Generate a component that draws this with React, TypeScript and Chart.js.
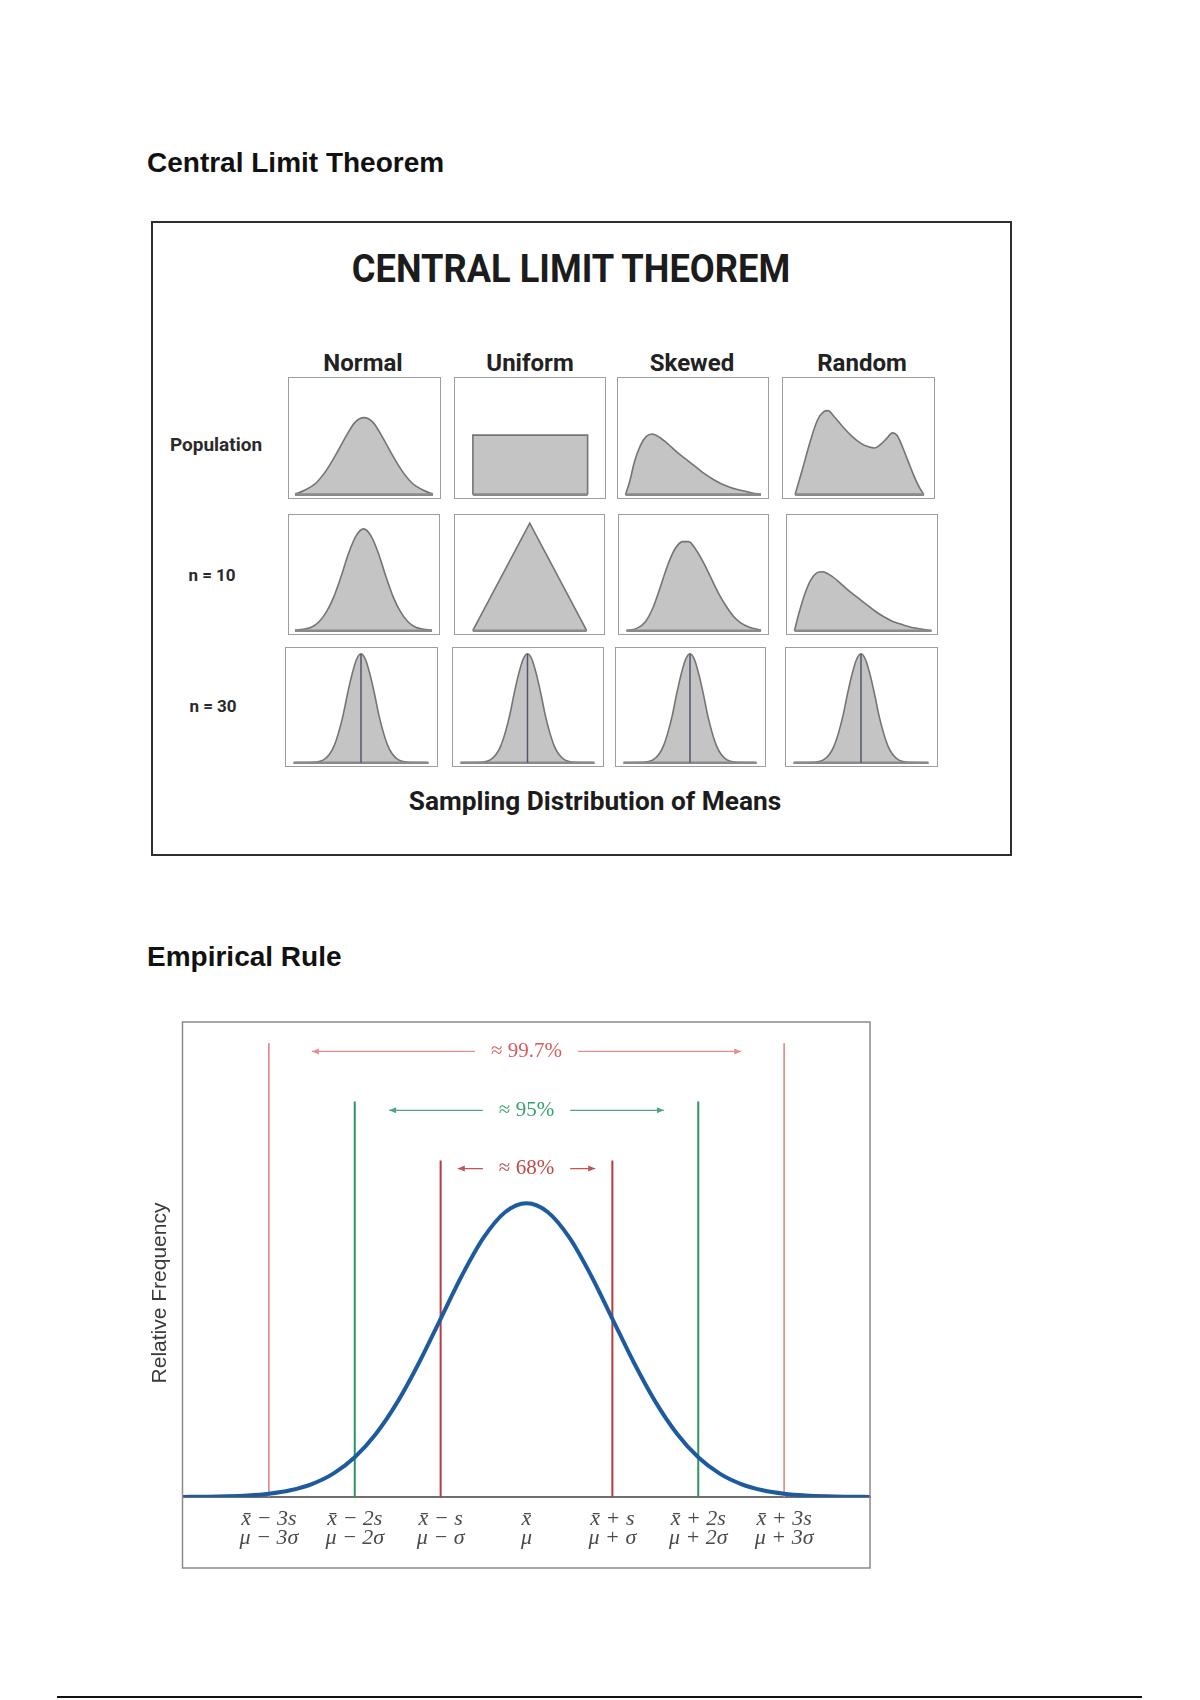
import React, { useEffect, useRef } from 'react';
import { Chart, registerables } from 'chart.js';
Chart.register(...registerables);

// ---------------- Central Limit Theorem data ----------------
const columnLabels = ['Normal', 'Uniform', 'Skewed', 'Random'];
const rowLabels = ['Population', 'n = 10', 'n = 30'];

const popNormal: number[][] = [[0.04,0.005],[0.10,0.035],[0.18,0.10],[0.25,0.21],[0.32,0.36],[0.38,0.50],[0.44,0.62],[0.50,0.66],[0.56,0.62],[0.62,0.50],[0.68,0.36],[0.75,0.21],[0.82,0.10],[0.90,0.035],[0.96,0.005]];
const popUniform: number[][] = [[0.12,0],[0.12,0.51],[0.89,0.51],[0.89,0]];
const popSkewed: number[][] = [[0.05,0],[0.08,0.12],[0.11,0.28],[0.15,0.42],[0.19,0.50],[0.23,0.52],[0.28,0.49],[0.34,0.43],[0.40,0.36],[0.46,0.30],[0.52,0.24],[0.58,0.18],[0.64,0.13],[0.70,0.09],[0.76,0.06],[0.83,0.035],[0.90,0.015],[0.96,0.004]];
const popRandom: number[][] = [[0.08,0],[0.13,0.22],[0.18,0.45],[0.23,0.64],[0.27,0.71],[0.30,0.72],[0.34,0.67],[0.40,0.58],[0.46,0.50],[0.52,0.44],[0.57,0.41],[0.61,0.40],[0.65,0.43],[0.69,0.48],[0.73,0.53],[0.76,0.51],[0.79,0.43],[0.83,0.30],[0.87,0.17],[0.91,0.06],[0.94,0]];

const n10Normal: number[][] = [[0.04,0.005],[0.08,0.01],[0.15,0.03],[0.20,0.075],[0.25,0.16],[0.30,0.29],[0.35,0.47],[0.40,0.67],[0.45,0.82],[0.50,0.88],[0.55,0.82],[0.60,0.67],[0.65,0.47],[0.70,0.29],[0.75,0.16],[0.80,0.075],[0.85,0.03],[0.92,0.01],[0.96,0.005]];
const n10Uniform: number[][] = [[0.12,0],[0.505,0.93],[0.89,0]];
const n10Skewed: number[][] = [[0.05,0],[0.12,0.02],[0.18,0.08],[0.23,0.20],[0.28,0.38],[0.33,0.57],[0.38,0.71],[0.43,0.77],[0.47,0.77],[0.52,0.70],[0.57,0.59],[0.62,0.46],[0.67,0.33],[0.72,0.22],[0.77,0.13],[0.82,0.07],[0.88,0.03],[0.96,0.005]];
const n10Random: number[][] = [[0.05,0],[0.08,0.15],[0.12,0.32],[0.16,0.44],[0.20,0.50],[0.24,0.51],[0.29,0.48],[0.35,0.42],[0.41,0.35],[0.47,0.29],[0.53,0.23],[0.59,0.17],[0.65,0.12],[0.71,0.08],[0.78,0.05],[0.85,0.025],[0.92,0.01],[0.97,0]];

const n30Curve: number[][] = [[0.05,0],[0.10,0.002],[0.20,0.006],[0.25,0.025],[0.29,0.074],[0.32,0.145],[0.35,0.26],[0.38,0.41],[0.41,0.60],[0.44,0.77],[0.47,0.90],[0.50,0.95],[0.53,0.90],[0.56,0.77],[0.59,0.60],[0.62,0.41],[0.65,0.26],[0.68,0.145],[0.71,0.074],[0.75,0.025],[0.80,0.006],[0.90,0.002],[0.95,0]];
const n30Mean: number[][] = [[0.5,0],[0.5,0.95]];

const gridCurves = [
  [popNormal, popUniform, popSkewed, popRandom],
  [n10Normal, n10Uniform, n10Skewed, n10Random],
  [n30Curve, n30Curve, n30Curve, n30Curve],
];
const straightShapes = [popUniform, n10Uniform];

// ---------------- Empirical Rule data ----------------
const curveX = [-4,-3.75,-3.5,-3.25,-3,-2.75,-2.5,-2.25,-2,-1.75,-1.5,-1.25,-1,-0.75,-0.5,-0.25,0,0.25,0.5,0.75,1,1.25,1.5,1.75,2,2.25,2.5,2.75,3,3.25,3.5,3.75,4];
const curveY = [0.0001,0.0004,0.0009,0.002,0.0044,0.0091,0.0175,0.0317,0.054,0.0863,0.1295,0.1826,0.242,0.3011,0.3521,0.3867,0.3989,0.3867,0.3521,0.3011,0.242,0.1826,0.1295,0.0863,0.054,0.0317,0.0175,0.0091,0.0044,0.002,0.0009,0.0004,0.0001];

const sigmaLineX = [-3, -2, -1, 1, 2, 3];
const sigmaLineTop = [0.616, 0.537, 0.457, 0.457, 0.537, 0.616];

const bandLabels = ['≈ 99.7%', '≈ 95%', '≈ 68%'];
const bandHalfSpan = [2.5, 1.6, 0.8];
const bandLevel = [0.605, 0.525, 0.446];

const tickValues = [-3, -2, -1, 0, 1, 2, 3];
const tickSampleLabels = ['x̄ − 3s', 'x̄ − 2s', 'x̄ − s', 'x̄', 'x̄ + s', 'x̄ + 2s', 'x̄ + 3s'];
const tickPopLabels = ['μ − 3σ', 'μ − 2σ', 'μ − σ', 'μ', 'μ + σ', 'μ + 2σ', 'μ + 3σ'];

// ---------------- styles / layout ----------------
const sigmaStyle: Record<number, { color: string; width: number }> = {
  1: { color: '#b43c3c', width: 2 },
  2: { color: '#2b9662', width: 2 },
  3: { color: '#e38585', width: 1.6 },
};
const bandStyle = [
  { arrow: '#e58e8e', text: '#d65c5c' },
  { arrow: '#4fa586', text: '#38a06e' },
  { arrow: '#c45454', text: '#c04848' },
];

const panelBoxes = [
  [[288, 377, 441, 499], [454, 377, 606, 499], [617, 377, 769, 499], [782, 377, 935, 499]],
  [[288, 514, 440, 635], [454, 514, 605, 635], [618, 514, 769, 635], [786, 514, 938, 635]],
  [[285, 647, 438, 767], [452, 647, 604, 767], [615, 647, 766, 767], [785, 647, 938, 767]],
];
const columnCenters = [363, 530, 692, 862];
const rowLabelPos = [[216, 444], [212, 575], [213, 706]];

function Panel({ box, curve, mean }: { box: number[]; curve: number[][]; mean?: number[][] }) {
  const ref = useRef<HTMLCanvasElement>(null);
  const [l, t, r, b] = box;
  const w = r - l - 3;
  const h = b - t - 3;
  useEffect(() => {
    const straight = straightShapes.includes(curve);
    const ds: any[] = [
      {
        data: curve.map(([x, y]) => ({ x, y })),
        borderColor: '#747474', borderWidth: 1.6, backgroundColor: '#c4c4c4',
        fill: 'origin', pointRadius: 0, tension: 0,
        cubicInterpolationMode: straight ? 'default' : 'monotone', order: 2,
      },
      {
        data: [{ x: curve[0][0], y: 0 }, { x: curve[curve.length - 1][0], y: 0 }],
        borderColor: '#8a8a8a', borderWidth: 2.6, pointRadius: 0, order: 1,
      },
    ];
    if (mean) {
      ds.push({ data: mean.map(([x, y]) => ({ x, y })), borderColor: '#4f5769', borderWidth: 1.5, pointRadius: 0, order: 0 });
    }
    const chart = new Chart(ref.current!, {
      type: 'line',
      data: { datasets: ds },
      options: {
        animation: false, responsive: false, events: [],
        layout: { padding: 0 },
        plugins: { legend: { display: false }, tooltip: { enabled: false } },
        scales: {
          x: { type: 'linear', display: false, min: 0, max: 1 },
          y: { display: false, min: -0.02, max: 1 },
        },
      } as any,
    });
    return () => chart.destroy();
  }, []);
  return (
    <div style={{ position: 'absolute', left: l, top: t, width: r - l, height: b - t, boxSizing: 'border-box', border: '1.5px solid #9e9e9e', background: '#fff' }}>
      <canvas ref={ref} width={w} height={h} style={{ display: 'block', position: 'absolute', left: 0, top: 0 }} />
    </div>
  );
}

function CText({ cx, cy, size, text, scaleX = 1, color = '#1c1c1c', weight = 700 }: any) {
  return (
    <div style={{ position: 'absolute', left: cx - 400, top: cy - size / 2, width: 800, textAlign: 'center', fontSize: size, lineHeight: `${size}px`, fontWeight: weight, fontFamily: 'Roboto, "Noto Sans", sans-serif', color, transform: `scaleX(${scaleX})`, whiteSpace: 'nowrap' }}>
      {text}
    </div>
  );
}

const FRAME_BOTTOM = 568;

const empiricalDecor = {
  id: 'empiricalDecor',
  afterDraw(chart: any) {
    const { ctx, chartArea, scales } = chart;
    const x = scales.x, y = scales.y;
    ctx.save();
    ctx.strokeStyle = '#8a8a8a';
    ctx.lineWidth = 1.5;
    ctx.strokeRect(chartArea.left - 0.5, chartArea.top, chartArea.right - chartArea.left + 0.5, FRAME_BOTTOM - chartArea.top);

    ctx.save();
    ctx.translate(20, 293);
    ctx.rotate(-Math.PI / 2);
    ctx.fillStyle = '#3a3a3a';
    ctx.font = '21px "Liberation Sans", Arial, sans-serif';
    ctx.textAlign = 'center';
    ctx.textBaseline = 'middle';
    ctx.fillText('Relative Frequency', 0, 0);
    ctx.restore();

    ctx.font = '21px "Liberation Serif", serif';
    ctx.textAlign = 'center';
    ctx.textBaseline = 'middle';
    bandLabels.forEach((label, i) => {
      const yy = y.getPixelForValue(bandLevel[i]);
      const cx = x.getPixelForValue(0);
      const tw = ctx.measureText(label).width;
      const gap = tw / 2 + 16;
      const lx = x.getPixelForValue(-bandHalfSpan[i]);
      const rx = x.getPixelForValue(bandHalfSpan[i]);
      ctx.strokeStyle = bandStyle[i].arrow;
      ctx.fillStyle = bandStyle[i].arrow;
      ctx.lineWidth = 1.3;
      ctx.beginPath();
      ctx.moveTo(lx, yy); ctx.lineTo(cx - gap, yy);
      ctx.moveTo(cx + gap, yy); ctx.lineTo(rx, yy);
      ctx.stroke();
      ctx.beginPath();
      ctx.moveTo(lx, yy); ctx.lineTo(lx + 7, yy - 3); ctx.lineTo(lx + 7, yy + 3); ctx.closePath();
      ctx.moveTo(rx, yy); ctx.lineTo(rx - 7, yy - 3); ctx.lineTo(rx - 7, yy + 3); ctx.closePath();
      ctx.fill();
      ctx.fillStyle = bandStyle[i].text;
      ctx.fillText(label, cx, yy);
    });
    ctx.restore();
  },
};

function EmpiricalChart() {
  const ref = useRef<HTMLCanvasElement>(null);
  useEffect(() => {
    const datasets: any[] = [
      {
        data: curveX.map((x, i) => ({ x, y: curveY[i] })),
        borderColor: '#1d5a9e', borderWidth: 4, pointRadius: 0,
        cubicInterpolationMode: 'monotone', order: 0,
      },
      ...sigmaLineX.map((x, i) => ({
        data: [{ x, y: 0 }, { x, y: sigmaLineTop[i] }],
        borderColor: sigmaStyle[Math.abs(x)].color,
        borderWidth: sigmaStyle[Math.abs(x)].width,
        pointRadius: 0, order: 1,
      })),
    ];
    const chart = new Chart(ref.current!, {
      type: 'line',
      data: { datasets },
      options: {
        animation: false, responsive: false, events: [],
        layout: { padding: { left: 43, right: 10, top: 22, bottom: 0 } },
        plugins: { legend: { display: false }, tooltip: { enabled: false } },
        scales: {
          x: {
            type: 'linear', min: -4, max: 4,
            afterBuildTicks: (s: any) => { s.ticks = tickValues.map((v) => ({ value: v })); },
            afterFit: (s: any) => { s.height = 83; },
            grid: { display: false, drawTicks: false },
            border: { display: true, color: '#6f6f6f', width: 2 },
            ticks: {
              padding: 12, color: '#4a4a4a', autoSkip: false, maxRotation: 0,
              font: { family: '"Liberation Serif", serif', size: 22, style: 'italic', lineHeight: 0.9 },
              callback: (v: any) => {
                const i = tickValues.indexOf(Number(v));
                return i < 0 ? '' : [tickSampleLabels[i], tickPopLabels[i]];
              },
            },
          },
          y: { display: false, min: 0, max: 0.645 },
        },
      } as any,
      plugins: [empiricalDecor],
    });
    return () => chart.destroy();
  }, []);
  return <canvas ref={ref} width={740} height={580} style={{ position: 'absolute', left: 140, top: 1000, display: 'block' }} />;
}

export default function App() {
  return (
    <div style={{ position: 'absolute', left: 0, top: 0, width: 1200, height: 1700, background: '#fff', overflow: 'hidden' }}>
      <div style={{ position: 'absolute', left: 147, top: 149, fontSize: 28, lineHeight: '28px', fontWeight: 700, fontFamily: '"Liberation Sans", Arial, sans-serif', color: '#111', whiteSpace: 'nowrap' }}>Central Limit Theorem</div>

      <div style={{ position: 'absolute', left: 151, top: 221, width: 861, height: 635, boxSizing: 'border-box', border: '2px solid #2e2e2e', background: '#fff' }} />
      <CText cx={571} cy={269} size={39} text="CENTRAL LIMIT THEOREM" scaleX={0.93} />
      {columnLabels.map((c, i) => (
        <CText key={c} cx={columnCenters[i]} cy={363} size={24} text={c} scaleX={1.0} color="#222" />
      ))}
      {rowLabels.map((r, i) => (
        <CText key={r} cx={rowLabelPos[i][0]} cy={rowLabelPos[i][1]} size={i === 0 ? 19 : 17} text={r} color="#2a2a2a" />
      ))}
      {gridCurves.map((row, ri) =>
        row.map((curve, ci) => (
          <Panel key={`${ri}-${ci}`} box={panelBoxes[ri][ci]} curve={curve} mean={ri === 2 ? n30Mean : undefined} />
        ))
      )}
      <CText cx={595} cy={801} size={26} text="Sampling Distribution of Means" scaleX={1.01} />

      <div style={{ position: 'absolute', left: 147, top: 943, fontSize: 28, lineHeight: '28px', fontWeight: 700, fontFamily: '"Liberation Sans", Arial, sans-serif', color: '#111', whiteSpace: 'nowrap' }}>Empirical Rule</div>
      <EmpiricalChart />

      <div style={{ position: 'absolute', left: 57, top: 1696, width: 1085, height: 2, background: '#111' }} />
    </div>
  );
}
